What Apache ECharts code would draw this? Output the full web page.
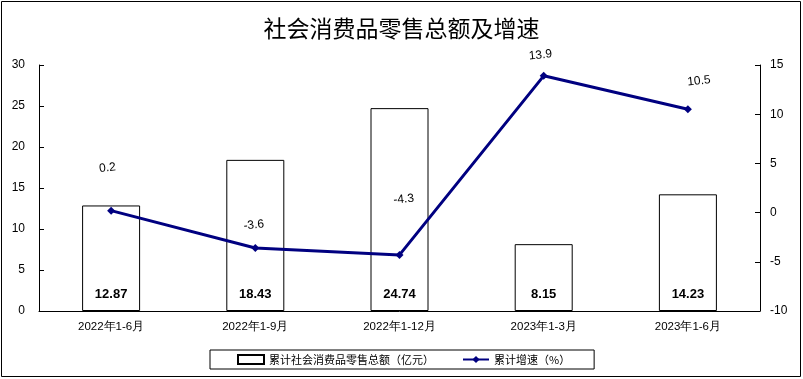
<!DOCTYPE html>
<html><head><meta charset="utf-8">
<script src="https://cdn.jsdelivr.net/npm/echarts@6/dist/echarts.min.js"></script>
<style>html,body{margin:0;padding:0;background:#fff}#c{width:803px;height:379px}</style>
</head><body><div id="c"></div>
<script>
const categories = ['2022年1-6月','2022年1-9月','2022年1-12月','2023年1-3月','2023年1-6月'];
const retailTotal = [12.87, 18.43, 24.74, 8.15, 14.23];
const growthRate = [0.2, -3.6, -4.3, 13.9, 10.5];
const barName = '累计社会消费品零售总额（亿元）';
const lineName = '累计增速（%）';
const titleText = '社会消费品零售总额及增速';

const labelOffsets = [[0,-28],[0,-8],[9,-40],[-2,-6],[13,-12]];
const chart = echarts.init(document.getElementById('c'));
const font = 'Liberation Sans, Arial, sans-serif';
chart.setOption({
  animation: false,
  title: {text: titleText, left: 'center', top: 12, textStyle: {fontFamily: 'Noto Sans CJK SC', fontWeight: 'normal', fontSize: 23, color: '#000'}},
  graphic: [{type: 'rect', shape: {x: 1.5, y: 1.5, width: 799, height: 375}, style: {fill: 'none', stroke: '#000', lineWidth: 1}, silent: true}],
  grid: {left: 39, right: 43, top: 65, bottom: 68},
  legend: {
    bottom: 10, left: 210, itemGap: 28, itemWidth: 26, itemHeight: 9,
    borderColor: '#000', borderWidth: 1, padding: [4, 24, 4, 27],
    textStyle: {fontSize: 11, color: '#000', fontFamily: 'Noto Sans CJK SC'},
    data: [{name: barName, icon: 'rect'}, {name: lineName}]
  },
  xAxis: {
    type: 'category', data: categories,
    axisLine: {lineStyle: {color: '#000', width: 1}},
    axisTick: {inside: true, length: 5, lineStyle: {color: '#000'}},
    axisLabel: {color: '#000', fontSize: 11.5, fontFamily: font, margin: 10}
  },
  yAxis: [
    {type: 'value', min: 0, max: 30, interval: 5,
     axisLine: {show: true, lineStyle: {color: '#000'}},
     axisTick: {show: true, inside: true, length: 5, lineStyle: {color: '#000'}},
     splitLine: {show: false},
     axisLabel: {color: '#000', fontSize: 12, fontFamily: font, margin: 14}},
    {type: 'value', min: -10, max: 15, interval: 5,
     axisLine: {show: true, lineStyle: {color: '#000'}},
     axisTick: {show: true, inside: true, length: 5, lineStyle: {color: '#000'}},
     splitLine: {show: false},
     axisLabel: {color: '#000', fontSize: 12, fontFamily: font, margin: 10}}
  ],
  series: [
    {name: barName, type: 'bar', data: retailTotal, barWidth: 58, yAxisIndex: 0,
     itemStyle: {color: '#fff', borderColor: '#000', borderWidth: 1},
     label: {show: true, position: 'insideBottom', distance: 10, fontWeight: 'bold', fontSize: 13, color: '#000', fontFamily: font}},
    {name: lineName, type: 'line', yAxisIndex: 1,
     data: growthRate.map((v, i) => ({value: v, label: {offset: labelOffsets[i]}})),
     symbol: 'diamond', symbolSize: 8,
     lineStyle: {color: '#000080', width: 3}, itemStyle: {color: '#000080'},
     label: {show: true, position: 'top', rotate: 6, fontSize: 12, color: '#000', fontFamily: font}}
  ]
});
</script></body></html>
